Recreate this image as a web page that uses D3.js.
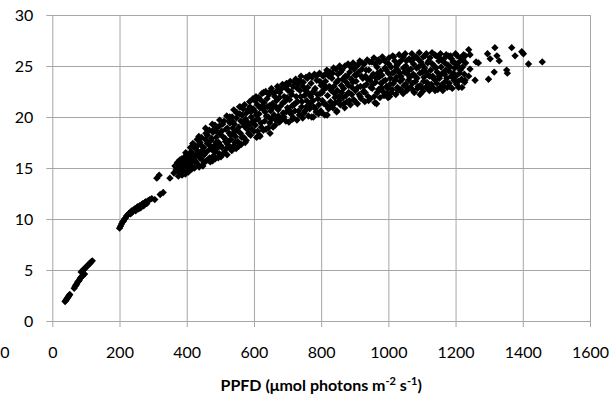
<!DOCTYPE html>
<html>
<head>
<meta charset="utf-8">
<script src="https://cdn.jsdelivr.net/npm/d3@7"></script>
<style>
  body { margin: 0; background: #fff; }
  text { font-family: Lato, "Open Sans", sans-serif; fill: #000; }
</style>
</head>
<body>
<div id="wrapper"></div>
<script>
// tick values
const xTicks = [0, 200, 400, 600, 800, 1000, 1200, 1400, 1600]
const yTicks = [0, 5, 10, 15, 20, 25, 30]

// PPFD vs rate, [ppfd, rate]
const lowLight = [
  [38,1.9],[40,2.0],[42,2.1],[44,2.2],[46,2.3],[48,2.4],[50,2.5],[52,2.6],
  [65,3.2],[68,3.4],[70,3.5],[72,3.6],[75,3.8],[78,3.9],[80,4.0],[83,4.2],[86,4.3],[89,4.4],[92,4.5],[96,4.6],
  [86,4.8],[89,4.9],[92,5.0],[95,5.1],[98,5.2],[101,5.3],[104,5.4],[107,5.5],[110,5.6],[113,5.7],[116,5.8],[119,5.9]
]
const ramp = [
  [200,9.1],[203,9.3],[206,9.5],[209,9.7],[212,9.8],[215,10.0],[218,10.1],[221,10.3],[224,10.4],[227,10.5],
  [230,10.6],[233,10.5],[236,10.8],[239,10.7],[242,10.9],[245,11.0],[248,10.8],[251,11.1],[254,11.2],[257,11.0],
  [260,11.3],[263,11.1],[266,11.4],[269,11.5],[272,11.3],[275,11.6],[278,11.7],[281,11.5],[285,11.8],[290,11.9],
  [296,12.0],[305,11.9],[321,12.4],[330,12.6],[311,14.0],[318,14.3],[350,14.0],[375,15.5]
]
const cloud = [
  [362,14.5],[365,15.2],[368,14.8],[372,15.5],[375,14.2],[378,15.0],[380,15.8],[383,14.6],[386,14.3],[388,15.4],
  [391,16.0],[394,14.9],[396,14.4],[398,15.6],[400,16.3],[403,15.1],[405,14.6],[408,16.0],[410,15.4],[413,16.6],
  [415,14.9],[418,15.8],[420,16.2],
  [423,15.0],[425,16.9],[428,15.6],[430,16.4],[433,17.2],[435,15.3],[438,16.0],[440,17.5],[443,15.9],[445,16.7],
  [448,15.2],[450,17.0],[452,16.3],[455,17.8],[458,15.7],[460,16.6],[462,18.2],[465,17.3],[468,16.0],[470,15.6],
  [472,17.7],[475,16.8],[478,18.5],[480,16.2],[482,17.2],[484,19.2],[485,15.9],[488,18.0],[490,16.9],[492,19.0],
  [495,17.5],[497,16.4],[500,18.3],
  [502,16.1],[505,17.0],[507,19.3],[510,18.0],[512,16.5],[515,17.6],[517,18.8],[520,16.3],[522,17.3],[525,19.6],
  [527,18.4],[529,19.4],[530,16.9],[532,17.8],[535,20.0],[537,18.9],[540,17.2],[542,19.3],[545,18.1],[547,16.9],
  [549,20.4],[550,20.4],[552,17.6],[555,19.0],[557,21.0],[559,21.0],[560,18.4],[562,17.3],[565,20.2],[567,19.4],
  [570,18.0],[572,21.2],[575,19.8],[577,17.7],[580,18.8],[582,20.7],[585,19.2],[587,21.5],[590,18.2],[592,20.0],
  [595,19.5],[597,21.8],[600,18.6],
  [602,20.6],[604,19.2],[606,22.0],[608,18.0],[610,21.2],[612,19.8],[615,20.3],[617,18.2],[618,18.1],[619,21.7],
  [622,19.0],[624,22.3],[626,20.8],[628,18.7],[630,21.4],[632,19.6],[635,22.5],[637,20.1],[640,21.0],[642,18.9],
  [645,22.2],[647,19.4],[648,18.4],[650,20.6],[652,22.8],[655,21.3],[657,19.0],[660,20.2],[662,22.0],[665,19.7],
  [667,21.6],[670,23.0],[672,20.7],[675,19.5],[677,22.4],[680,21.1],[682,19.9],[685,23.2],[687,20.4],[690,22.0],
  [692,21.5],[695,19.6],[697,23.3],[700,20.9],
  [702,22.6],[704,19.5],[706,21.7],[708,23.5],[710,20.3],[712,22.2],[715,19.8],[717,23.0],[719,21.2],[722,20.6],
  [724,23.7],[726,22.0],[728,19.7],[730,21.5],[732,23.2],[735,20.2],[737,22.6],[740,24.0],[742,21.0],[745,19.9],
  [747,23.4],[750,22.1],[752,20.6],[755,23.9],[757,21.6],[760,22.9],[762,20.1],[765,24.1],[767,21.3],[770,23.3],
  [772,20.0],[775,22.4],[777,20.0],[778,21.0],[780,24.2],[782,22.8],[785,20.5],[787,23.6],[790,21.8],[792,20.3],
  [795,24.3],[797,22.3],[800,23.1],
  [802,20.4],[804,21.6],[806,24.0],[808,22.7],[811,20.2],[813,23.5],[815,21.2],[817,24.6],[818,20.2],[819,22.1],
  [822,20.8],[824,23.0],[826,24.4],[828,21.5],[830,22.6],[832,23.8],[835,20.9],[837,24.8],[840,22.3],[842,21.4],
  [845,23.4],[846,20.5],[847,20.6],[850,24.2],[852,22.0],[855,25.0],[857,21.2],[860,23.1],[862,24.6],[865,21.9],
  [867,22.8],[870,20.9],[872,24.0],[875,23.4],[877,21.5],[880,25.2],[882,22.4],[885,24.4],[887,21.2],[890,23.7],
  [892,22.9],[895,25.3],[897,21.7],[900,24.1],
  [902,22.6],[904,23.5],[906,25.0],[908,21.3],[911,24.4],[913,22.2],[915,25.5],[917,23.0],[919,21.8],[922,24.7],
  [924,23.8],[926,22.5],[928,25.2],[930,21.5],[932,24.0],[935,23.2],[937,25.6],[940,22.0],[942,24.6],[945,23.6],
  [947,21.8],[950,25.4],[952,22.8],[955,24.2],[957,25.8],[960,21.4],[962,23.4],[965,21.3],[966,24.9],[967,22.4],
  [970,25.6],[972,23.9],[975,21.9],[977,24.5],[980,22.9],[982,25.9],[985,23.5],[987,22.1],[990,24.8],[992,25.4],
  [995,23.0],[997,22.3],[999,21.9],[1000,24.3],
  [1002,25.8],[1004,22.0],[1006,23.8],[1008,24.9],[1011,22.7],[1013,26.0],[1015,23.3],[1017,24.4],[1019,25.5],
  [1022,22.2],[1024,23.9],[1026,25.1],[1028,24.6],[1029,22.6],[1030,22.8],[1032,26.1],[1035,23.5],[1037,24.0],
  [1040,25.6],[1042,22.4],[1044,22.3],[1045,24.8],[1047,23.1],[1050,26.2],[1052,25.0],[1055,22.6],[1057,24.2],
  [1060,23.6],[1062,25.7],[1065,22.9],[1067,24.7],[1070,26.2],[1072,23.3],[1075,25.2],[1077,22.4],[1080,24.0],
  [1082,25.9],[1085,23.8],[1087,22.8],[1090,24.9],[1092,26.3],[1094,22.2],[1095,23.1],[1097,25.4],[1100,24.4],
  [1102,22.5],[1104,25.9],[1106,23.9],[1108,24.8],[1111,22.9],[1113,26.2],[1115,23.4],[1117,25.3],[1119,24.1],
  [1122,22.6],[1124,25.8],[1126,24.6],[1128,23.2],[1130,26.3],[1132,24.0],[1135,22.8],[1137,25.0],[1139,22.6],
  [1140,23.6],[1142,26.0],[1145,24.4],[1147,22.7],[1150,25.5],[1152,23.8],[1155,26.2],[1157,24.9],[1160,23.2],
  [1162,22.6],[1165,25.7],[1167,24.2],[1170,23.5],[1172,26.1],[1175,22.9],[1177,25.1],[1180,24.5],[1182,23.0],
  [1185,26.0],[1187,24.0],[1190,22.8],[1192,25.4],[1195,23.6],[1197,24.8],[1200,26.2],[1203,23.2],[1206,25.0],
  [1209,22.9],[1212,24.3],[1215,25.8],[1218,23.7],[1221,24.9],[1224,26.1],[1227,23.4],[1230,25.3]
]
// second pass over the dense band
const cloudFill = [
  [371,14.9],[374,15.6],[377,14.5],[381,15.3],[385,15.9],[389,14.7],[392,15.2],[397,16.5],[401,14.8],[404,16.0],
  [407,15.5],[411,17.0],[414,15.2],[417,16.4],[418,17.4],[421,17.3],[424,15.6],[427,16.2],[431,17.8],[434,16.6],
  [436,18.1],[437,15.1],[441,16.3],[444,18.0],[447,17.1],[451,15.5],[454,16.5],[456,18.9],[457,18.4],[461,17.4],
  [464,15.8],[467,18.7],[471,16.9],[474,17.9],[476,19.3],[477,15.7],[481,18.8],[484,16.6],[487,17.5],[491,18.5],
  [494,16.0],[497,19.1],[498,19.7],[501,17.2],[504,18.6],[508,16.4],[511,19.6],[514,17.9],[518,16.9],[519,20.1],
  [521,18.9],[524,17.6],[528,20.0],[531,18.2],[534,16.7],[538,19.5],[540,20.7],[541,18.5],[544,17.5],[548,19.9],
  [551,18.7],[554,17.1],[558,20.3],[561,19.6],[564,18.0],[568,20.8],[571,19.1],[574,17.5],[578,20.4],[581,19.5],
  [584,18.4],[588,21.0],[591,20.5],[594,18.8],[598,20.8],[601,19.6],[603,21.6],[607,20.2],[611,18.6],[614,21.9],
  [618,20.9],[621,19.4],[625,21.1],[629,22.4],[633,20.5],[636,18.8],[639,21.8],[643,20.0],[646,21.1],[649,22.5],
  [653,19.8],[656,20.9],[659,22.3],[663,19.2],[666,21.0],[669,22.6],[673,20.1],[676,21.9],[679,19.6],[683,22.8],
  [686,21.4],[689,20.0],[693,22.9],[696,20.5],[699,21.9],[703,23.2],[707,20.6],[711,22.5],[714,21.1],[718,19.9],
  [721,23.4],[725,21.4],[729,22.8],[733,20.6],[736,23.6],[739,22.0],[743,21.5],[746,23.0],[749,20.4],[753,22.6],
  [756,21.0],[759,23.8],[763,22.3],[766,20.8],[769,22.0],[773,23.9],[776,21.6],[779,22.6],[783,20.8],[786,24.0],
  [789,22.2],[793,21.2],[796,23.5],[799,20.6],[803,22.4],[806,23.2],[809,21.3],[812,24.2],[816,22.9],[820,21.0],
  [823,24.0],[827,22.9],[831,21.1],[834,24.3],[838,23.0],[841,21.9],[844,24.7],[848,22.6],[851,23.6],[854,21.6],
  [858,24.4],[861,22.4],[864,23.7],[868,21.3],[871,25.0],[874,22.1],[878,24.0],[881,23.1],[884,21.6],[888,24.9],
  [891,22.2],[894,23.4],[898,24.7],[901,21.5],[905,24.1],[909,22.9],[912,25.2],[916,22.0],[920,24.0],[923,25.3],
  [927,23.0],[931,22.4],[934,24.6],[938,23.7],[941,21.6],[944,25.4],[948,22.9],[951,24.0],[954,23.2],[958,22.0],
  [961,25.2],[964,23.8],[968,24.3],[971,22.7],[974,25.4],[978,23.3],[981,24.1],[984,22.5],[988,25.6],[991,23.6],
  [994,24.6],[998,22.8],[1001,25.2],[1005,23.2],[1009,22.4],[1012,24.3],[1016,25.9],[1020,23.6],[1023,24.9],
  [1027,22.9],[1031,25.3],[1034,24.3],[1038,22.7],[1041,23.7],[1044,25.9],[1048,24.4],[1051,23.2],[1054,25.5],
  [1058,22.8],[1061,24.6],[1064,23.9],[1068,25.5],[1071,22.7],[1074,24.2],[1078,25.8],[1081,23.5],[1084,24.8],
  [1088,23.0],[1091,25.6],[1094,24.3],[1098,22.9],[1101,25.1],[1105,23.5],[1109,26.0],[1112,24.4],[1116,22.8],
  [1120,25.5],[1123,24.0],[1127,23.1],[1131,25.2],[1134,23.8],[1138,26.1],[1141,24.8],[1144,23.3],[1148,25.9],
  [1151,24.0],[1154,22.9],[1158,25.6],[1161,24.3],[1164,23.0],[1168,25.3],[1171,24.6],[1174,23.8],[1178,26.0],
  [1181,23.3],[1184,24.9],[1188,25.7],[1191,23.9],[1194,24.3],[1198,25.3],[1201,24.0],[1205,26.0],[1208,23.5],
  [1211,25.4],[1214,24.6],[1219,22.9],[1222,25.6],[1226,24.2],[1229,26.0]
]
const highLight = [
  [1239,26.6],[1243,26.1],[1261,25.4],[1268,25.3],[1295,26.2],[1303,25.7],[1317,26.8],[1323,26.0],[1330,25.5],
  [1367,26.8],[1377,26.0],[1397,26.4],[1402,26.2],[1417,25.2],[1458,25.4],[1315,24.4],[1298,23.7],[1352,24.6],
  [1354,24.3],[1258,23.6],[1239,24.0],[1228,23.6],[1243,24.7]
]

const allPoints = [...lowLight, ...ramp, ...cloud, ...cloudFill, ...highLight]

const width = 609
const height = 402
const margin = { left: 52.3, right: 19, top: 15, bottom: 81 }

const svg = d3.select('#wrapper')
  .append('svg')
  .attr('width', width)
  .attr('height', height)

const xScale = d3.scaleLinear()
  .domain([0, 1600])
  .range([margin.left, width - margin.right])

const yScale = d3.scaleLinear()
  .domain([0, 30])
  .range([height - margin.bottom, margin.top])

const plotTop = yScale(30)
const plotBottom = yScale(0)
const gridColor = '#a6a6a6'

// x axis with vertical grid
const xAxis = svg.append('g')
  .attr('transform', `translate(0, ${plotBottom})`)
  .call(d3.axisBottom(xScale).tickValues(xTicks).tickFormat(d3.format('d')).tickSize(6).tickPadding(0))
xAxis.select('.domain').remove()
xAxis.selectAll('.tick line')
  .attr('stroke', gridColor)
  .attr('y1', 6)
  .attr('y2', plotTop - plotBottom)
xAxis.selectAll('.tick text')
  .attr('y', 31)
  .attr('dy', '0.35em')
  .style('font-size', '16px')
  .style('font-family', 'Lato, "Open Sans", sans-serif')

// y axis with horizontal grid
const yAxis = svg.append('g')
  .attr('transform', `translate(${margin.left}, 0)`)
  .call(d3.axisLeft(yScale).tickValues(yTicks).tickSize(6).tickPadding(0))
yAxis.select('.domain').remove()
yAxis.selectAll('.tick line')
  .attr('stroke', gridColor)
  .attr('x1', -6)
  .attr('x2', xScale(1600) - margin.left)
yAxis.selectAll('.tick text')
  .attr('x', -19)
  .style('font-size', '16px')
  .style('font-family', 'Lato, "Open Sans", sans-serif')

// stray origin label at far left
svg.append('text')
  .attr('x', 5)
  .attr('y', plotBottom + 31)
  .attr('dy', '0.35em')
  .attr('text-anchor', 'middle')
  .style('font-size', '16px')
  .text('0')

// markers
const diamond = d3.symbol().type(d3.symbolSquare).size(27)
svg.append('g')
  .selectAll('path')
  .data(allPoints)
  .enter()
  .append('path')
  .attr('d', diamond)
  .attr('fill', '#000')
  .attr('transform', (d) => `translate(${xScale(d[0])}, ${yScale(d[1])}) rotate(45)`)

// x axis title
const title = svg.append('text')
  .attr('x', (xScale(0) + xScale(1600)) / 2)
  .attr('y', 391)
  .attr('text-anchor', 'middle')
  .style('font-size', '16px')
  .style('font-weight', 'bold')
title.append('tspan').text('PPFD (μmol photons m')
title.append('tspan').attr('dy', -6).style('font-size', '11px').text('-2')
title.append('tspan').attr('dy', 6).text(' s')
title.append('tspan').attr('dy', -6).style('font-size', '11px').text('-1')
title.append('tspan').attr('dy', 6).text(')')
</script>
</body>
</html>
